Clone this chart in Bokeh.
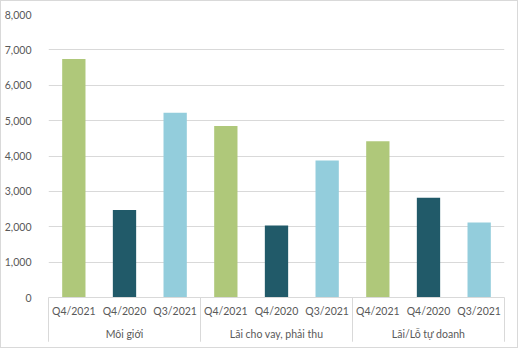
from bokeh.plotting import figure
from bokeh.models import FactorRange, FixedTicker, NumeralTickFormatter, ColumnDataSource
from bokeh.core.properties import value
from bokeh.embed import file_html
from bokeh.resources import INLINE

groups = ["Môi giới", "Lãi cho vay, phải thu", "Lãi/Lỗ tự doanh"]
periods = ["Q4/2021", "Q4/2020", "Q3/2021"]
q4_2021 = [6740, 4850, 4415]
q4_2020 = [2470, 2035, 2820]
q3_2021 = [5220, 3875, 2120]
y_ticks = [0, 1000, 2000, 3000, 4000, 5000, 6000, 7000, 8000]
colors = ["#AFC87A", "#215A69", "#93CDDC"]

series = [q4_2021, q4_2020, q3_2021]
xs, tops, fills = [], [], []
for i, g in enumerate(groups):
    for j, per in enumerate(periods):
        xs.append((g, per))
        tops.append(series[j][i])
        fills.append(colors[j])

src = ColumnDataSource(dict(x=xs, top=tops, color=fills))

FONT = "Lato"
TXT = "#595959"
GRID = "#D9D9D9"
FS = "10.5px"

xr = FactorRange(*xs, group_padding=0, range_padding=0)
p = figure(x_range=xr, y_range=(0, 8000), frame_width=456, frame_height=283,
           output_backend="svg", toolbar_location=None,
           min_border_left=45, min_border_right=13, min_border_top=13,
           min_border_bottom=50,
           styles={"border": "1px solid #D9D9D9"})

p.vbar(x="x", top="top", width=0.46, fill_color="color", line_color=None, source=src)

# group separators below the category axis
sep_x = [(groups[0], periods[0], -0.5)] + [(g, periods[-1], 0.5) for g in groups]
sep_src = ColumnDataSource(dict(x=sep_x))
p.segment(x0="x", y0=0, x1="x", y1=-1250, source=sep_src,
          line_color=GRID, line_width=1, level="overlay")

# group labels (second level of the category axis)
grp_src = ColumnDataSource(dict(x=[(g, periods[1]) for g in groups], text=groups))
p.text(x="x", y=-1035, text="text", source=grp_src, text_font=value(FONT),
       text_font_size=FS, text_color=TXT, text_align="center",
       text_baseline="middle", level="overlay")

p.outline_line_color = None
p.xgrid.grid_line_color = None
p.ygrid.grid_line_color = GRID
p.ygrid.grid_line_width = 1
p.background_fill_color = "white"
p.border_fill_color = "white"

p.yaxis.ticker = FixedTicker(ticks=y_ticks)
p.yaxis.formatter = NumeralTickFormatter(format="0,0")
p.yaxis.axis_line_color = None
p.yaxis.major_tick_line_color = None
p.yaxis.minor_tick_line_color = None
p.yaxis.major_label_standoff = 11
p.yaxis.major_label_text_font = FONT
p.yaxis.major_label_text_font_size = FS
p.yaxis.major_label_text_color = TXT

p.xaxis.axis_line_color = GRID
p.xaxis.major_tick_line_color = None
p.xaxis.minor_tick_line_color = None
p.xaxis.separator_line_color = None
p.xaxis.major_label_standoff = 1
p.xaxis.major_label_orientation = "horizontal"
p.xaxis.major_label_text_font = FONT
p.xaxis.major_label_text_font_size = FS
p.xaxis.major_label_text_color = TXT
p.xaxis.group_text_font_size = "1px"
p.xaxis.group_text_color = None

open("out.html", "w").write(file_html(p, INLINE))
